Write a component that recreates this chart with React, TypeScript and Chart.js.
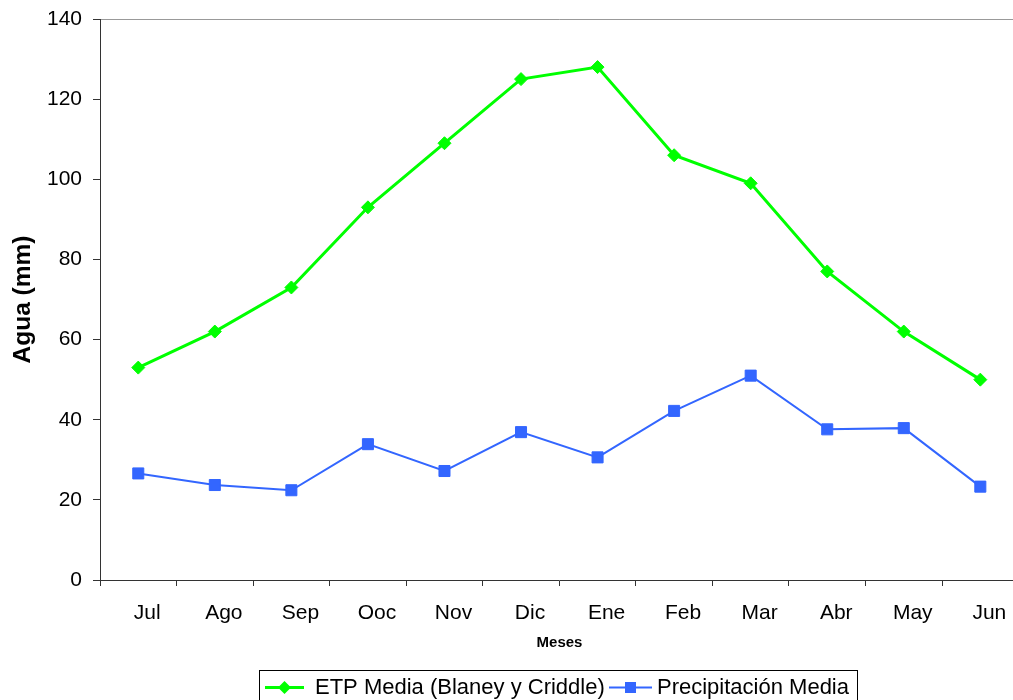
import React, { useEffect, useRef } from "react";
import { Chart, registerables } from "chart.js";

Chart.register(...registerables);

const months = ["Jul", "Ago", "Sep", "Ooc", "Nov", "Dic", "Ene", "Feb", "Mar", "Abr", "May", "Jun"];
const etpMedia = [53, 62, 73, 93, 109, 125, 128, 106, 99, 77, 62, 50];
const precipitacionMedia = [26.6, 23.7, 22.4, 33.9, 27.2, 36.9, 30.6, 42.2, 51, 37.6, 37.9, 23.3];
const seriesLabels = ["ETP Media (Blaney y Criddle)", "Precipitación Media"];
const yMin = 0;
const yMax = 140;
const yStep = 20;
const yTitle = "Agua (mm)";
const xTitle = "Meses";

const GREEN = "#00FF00";
const BLUE = "#3366FF";
const FONT = "'Liberation Sans', Arial, sans-serif";

const CANVAS_W = 1030;
const CANVAS_H = 700;

function drawDiamond(ctx: CanvasRenderingContext2D, x: number, y: number, r: number, color: string) {
  ctx.beginPath();
  ctx.moveTo(x, y - r);
  ctx.lineTo(x + r, y);
  ctx.lineTo(x, y + r);
  ctx.lineTo(x - r, y);
  ctx.closePath();
  ctx.fillStyle = color;
  ctx.fill();
}

const annotationsPlugin = {
  id: "customAnnotations",
  afterDraw(chart: any) {
    const ctx: CanvasRenderingContext2D = chart.ctx;
    const area = chart.chartArea;
    ctx.save();
    // Y title
    ctx.fillStyle = "#000";
    ctx.font = `bold 24.5px ${FONT}`;
    ctx.textAlign = "center";
    ctx.textBaseline = "middle";
    ctx.translate(23, (area.top + area.bottom) / 2);
    ctx.rotate(-Math.PI / 2);
    ctx.fillText(yTitle, 0, 0);
    ctx.restore();

    ctx.save();
    // X title
    ctx.fillStyle = "#000";
    ctx.font = `bold 15px ${FONT}`;
    ctx.textAlign = "center";
    ctx.textBaseline = "middle";
    ctx.fillText(xTitle, 559.5, 643);

    // Legend box
    ctx.strokeStyle = "#000";
    ctx.lineWidth = 1;
    ctx.strokeRect(259.5, 670.5, 598, 40);
    const ly = 687.5;
    // item 1
    ctx.strokeStyle = GREEN;
    ctx.lineWidth = 3;
    ctx.beginPath();
    ctx.moveTo(265, ly);
    ctx.lineTo(304, ly);
    ctx.stroke();
    drawDiamond(ctx, 284.5, ly, 6.5, GREEN);
    ctx.fillStyle = "#000";
    ctx.font = `22px ${FONT}`;
    ctx.textAlign = "left";
    ctx.textBaseline = "middle";
    ctx.fillText(seriesLabels[0], 315, ly);
    // item 2
    ctx.strokeStyle = BLUE;
    ctx.lineWidth = 2;
    ctx.beginPath();
    ctx.moveTo(609, ly);
    ctx.lineTo(652, ly);
    ctx.stroke();
    ctx.fillStyle = BLUE;
    ctx.fillRect(625, ly - 5.5, 11, 11);
    ctx.fillStyle = "#000";
    ctx.fillText(seriesLabels[1], 657, ly);
    ctx.restore();
  },
};

export default function App() {
  const canvasRef = useRef<HTMLCanvasElement | null>(null);

  useEffect(() => {
    if (!canvasRef.current) return;
    const chart = new Chart(canvasRef.current, {
      type: "line",
      data: {
        labels: months,
        datasets: [
          {
            label: seriesLabels[0],
            data: etpMedia,
            borderColor: GREEN,
            backgroundColor: GREEN,
            borderWidth: 3,
            pointStyle: "rectRot",
            pointRadius: 6.5,
            pointBorderWidth: 1,
            pointBackgroundColor: GREEN,
            pointBorderColor: GREEN,
            tension: 0,
          },
          {
            label: seriesLabels[1],
            data: precipitacionMedia,
            borderColor: BLUE,
            backgroundColor: BLUE,
            borderWidth: 2,
            pointStyle: "rect",
            pointRadius: 7.8,
            pointBorderWidth: 1,
            pointBackgroundColor: BLUE,
            pointBorderColor: BLUE,
            tension: 0,
          },
        ],
      },
      options: {
        responsive: false,
        animation: false,
        devicePixelRatio: 1,
        layout: { padding: { top: 19, left: 0, right: CANVAS_W - 1018.6, bottom: 0 } },
        plugins: {
          legend: { display: false },
          tooltip: { enabled: false },
          title: { display: false },
        },
        scales: {
          x: {
            type: "category",
            offset: true,
            grid: {
              offset: true,
              drawOnChartArea: false,
              drawTicks: true,
              tickLength: 6,
              tickColor: "#333",
              color: "#333",
            },
            border: { display: true, color: "#333", width: 1 },
            ticks: {
              color: "#000",
              font: { family: FONT, size: 21 },
              padding: 15,
              labelOffset: 9,
              maxRotation: 0,
              autoSkip: false,
            },
            afterFit: (scale: any) => {
              scale.height = 120;
              scale.paddingLeft = 0;
              scale.paddingRight = 0;
            },
          },
          y: {
            min: yMin,
            max: yMax,
            grid: {
              color: (c: any) => (c.tick && c.tick.value === yMax ? "#999" : "rgba(0,0,0,0)"),
              lineWidth: 1,
              drawTicks: true,
              tickLength: 7,
              tickColor: "#333",
            },
            border: { display: true, color: "#333", width: 1 },
            ticks: {
              stepSize: yStep,
              color: "#000",
              font: { family: FONT, size: 21 },
              padding: 11,
            },
            afterFit: (scale: any) => {
              scale.width = 100;
              scale.paddingTop = 0;
              scale.paddingBottom = 0;
            },
          },
        },
      },
      plugins: [annotationsPlugin],
    });
    return () => chart.destroy();
  }, []);

  return (
    <div
      style={{
        position: "fixed",
        left: 0,
        top: 0,
        width: 1013,
        height: 700,
        overflow: "hidden",
        background: "#fff",
      }}
    >
      <canvas
        ref={canvasRef}
        width={CANVAS_W}
        height={CANVAS_H}
        style={{ display: "block", width: CANVAS_W, height: CANVAS_H }}
      />
    </div>
  );
}
